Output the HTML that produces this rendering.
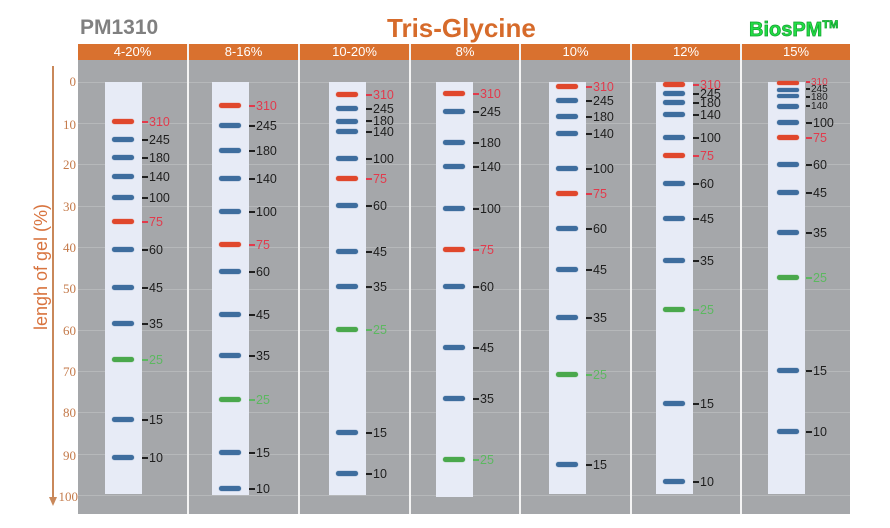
<!DOCTYPE html>
<html><head><meta charset="utf-8">
<style>
*{margin:0;padding:0;box-sizing:border-box}
body{width:890px;height:528px;background:#fff;position:relative;overflow:hidden;font-family:"Liberation Sans",sans-serif}
.a{position:absolute}
.hdr{position:absolute;top:44px;height:16px;line-height:16px;color:#fff;font-size:13px;text-align:center}
.sep{position:absolute;top:44px;width:2px;height:470px;background:#f4f4f4}
.grid{position:absolute;left:78px;width:772px;height:1px;background:#b6b8ba}
.tick{position:absolute;width:40px;text-align:right;font-family:"Liberation Serif",serif;font-size:13px;color:#c47a4a;line-height:14px}
.col{position:absolute;top:0;width:37px;height:528px}
.strip{position:absolute;left:0;top:82px;width:37px;height:413px;background:#e7ebf6}
.b{position:absolute;left:7px;width:22px;height:5px;border-radius:3px;background:#3e6d9e;box-shadow:0 0 1px #3e6d9e}
.b.r{background:#e0472c;box-shadow:0 0 1px #e0472c}
.b.g{background:#4aa84c;box-shadow:0 0 1px #4aa84c}
.l{position:absolute;left:37px;font-size:12.5px;line-height:14px;color:#1e1e1e;white-space:nowrap}
.l::before{content:"";display:inline-block;width:6px;height:2px;background:currentColor;vertical-align:middle;margin-right:1px;margin-top:-1px}
.l.r{color:#e23a4c}
.l.g{color:#5cb860}
.l.s{font-size:10px;line-height:10px}
.l.s::before{width:4px}
</style></head><body>

<div class="a" style="left:80px;top:17px;font-size:21px;line-height:21px;font-weight:bold;color:#808080">PM1310</div>
<div class="a" style="left:387px;top:15px;font-size:26px;line-height:26px;font-weight:bold;color:#d66b2b">Tris-Glycine</div>
<div class="a" style="left:749px;top:20px;font-size:20px;line-height:20px;font-weight:bold;color:#22dd44;-webkit-text-stroke:0.7px #13a030">BiosPM<span style="font-size:11px;vertical-align:top;line-height:11px;position:relative;top:0px">TM</span></div>

<!-- y axis -->
<div class="a" style="left:52px;top:66px;width:1.5px;height:432px;background:#c9885a"></div>
<div class="a" style="left:49px;top:497px;width:0;height:0;border-left:4px solid transparent;border-right:4px solid transparent;border-top:9px solid #c9885a"></div>
<div class="a" style="left:-59px;top:257px;width:200px;height:20px;line-height:20px;text-align:center;font-size:18px;color:#d8743f;transform:rotate(-90deg)">lengh of gel (%)</div>

<div class="tick" style="left:36px;top:75px">0</div>
<div class="tick" style="left:36px;top:118px">10</div>
<div class="tick" style="left:36px;top:158px">20</div>
<div class="tick" style="left:36px;top:200px">30</div>
<div class="tick" style="left:36px;top:241px">40</div>
<div class="tick" style="left:36px;top:282px">50</div>
<div class="tick" style="left:36px;top:324px">60</div>
<div class="tick" style="left:36px;top:365px">70</div>
<div class="tick" style="left:36px;top:406px">80</div>
<div class="tick" style="left:36px;top:449px">90</div>
<div class="tick" style="left:38px;top:490px">100</div>

<!-- panel -->
<div class="a" style="left:78px;top:60px;width:772px;height:454px;background:#a5a7aa"></div>
<div class="a" style="left:78px;top:44px;width:772px;height:16px;background:#d9712f"></div>

<div class="grid" style="top:82px"></div>
<div class="grid" style="top:123px"></div>
<div class="grid" style="top:164px"></div>
<div class="grid" style="top:206px"></div>
<div class="grid" style="top:247px"></div>
<div class="grid" style="top:289px"></div>
<div class="grid" style="top:330px"></div>
<div class="grid" style="top:371px"></div>
<div class="grid" style="top:412px"></div>
<div class="grid" style="top:454px"></div>
<div class="grid" style="top:495px"></div>

<div class="hdr" style="left:78px;width:109px">4-20%</div>
<div class="hdr" style="left:189px;width:109px">8-16%</div>
<div class="hdr" style="left:300px;width:109px">10-20%</div>
<div class="hdr" style="left:411px;width:108px">8%</div>
<div class="hdr" style="left:521px;width:109px">10%</div>
<div class="hdr" style="left:632px;width:108px">12%</div>
<div class="hdr" style="left:742px;width:108px">15%</div>

<div class="sep" style="left:187px"></div>
<div class="sep" style="left:298px"></div>
<div class="sep" style="left:409px"></div>
<div class="sep" style="left:519px"></div>
<div class="sep" style="left:630px"></div>
<div class="sep" style="left:740px"></div>

<!-- C1 -->
<div class="col" style="left:105px"><div class="strip" style="height:412px"></div>
<div class="b r" style="top:119px"></div><div class="l r" style="top:115px">310</div>
<div class="b" style="top:137px"></div><div class="l" style="top:133px">245</div>
<div class="b" style="top:155px"></div><div class="l" style="top:151px">180</div>
<div class="b" style="top:174px"></div><div class="l" style="top:170px">140</div>
<div class="b" style="top:195px"></div><div class="l" style="top:191px">100</div>
<div class="b r" style="top:219px"></div><div class="l r" style="top:215px">75</div>
<div class="b" style="top:247px"></div><div class="l" style="top:243px">60</div>
<div class="b" style="top:285px"></div><div class="l" style="top:281px">45</div>
<div class="b" style="top:321px"></div><div class="l" style="top:317px">35</div>
<div class="b g" style="top:357px"></div><div class="l g" style="top:353px">25</div>
<div class="b" style="top:417px"></div><div class="l" style="top:413px">15</div>
<div class="b" style="top:455px"></div><div class="l" style="top:451px">10</div>
</div>

<!-- C2 -->
<div class="col" style="left:212px"><div class="strip"></div>
<div class="b r" style="top:103px"></div><div class="l r" style="top:99px">310</div>
<div class="b" style="top:123px"></div><div class="l" style="top:119px">245</div>
<div class="b" style="top:148px"></div><div class="l" style="top:144px">180</div>
<div class="b" style="top:176px"></div><div class="l" style="top:172px">140</div>
<div class="b" style="top:209px"></div><div class="l" style="top:205px">100</div>
<div class="b r" style="top:242px"></div><div class="l r" style="top:238px">75</div>
<div class="b" style="top:269px"></div><div class="l" style="top:265px">60</div>
<div class="b" style="top:312px"></div><div class="l" style="top:308px">45</div>
<div class="b" style="top:353px"></div><div class="l" style="top:349px">35</div>
<div class="b g" style="top:397px"></div><div class="l g" style="top:393px">25</div>
<div class="b" style="top:450px"></div><div class="l" style="top:446px">15</div>
<div class="b" style="top:486px"></div><div class="l" style="top:482px">10</div>
</div>

<!-- C3 -->
<div class="col" style="left:329px"><div class="strip"></div>
<div class="b r" style="top:92px"></div><div class="l r" style="top:88px">310</div>
<div class="b" style="top:106px"></div><div class="l" style="top:102px">245</div>
<div class="b" style="top:119px"></div><div class="l" style="top:114px">180</div>
<div class="b" style="top:129px"></div><div class="l" style="top:125px">140</div>
<div class="b" style="top:156px"></div><div class="l" style="top:152px">100</div>
<div class="b r" style="top:176px"></div><div class="l r" style="top:172px">75</div>
<div class="b" style="top:203px"></div><div class="l" style="top:199px">60</div>
<div class="b" style="top:249px"></div><div class="l" style="top:245px">45</div>
<div class="b" style="top:284px"></div><div class="l" style="top:280px">35</div>
<div class="b g" style="top:327px"></div><div class="l g" style="top:323px">25</div>
<div class="b" style="top:430px"></div><div class="l" style="top:426px">15</div>
<div class="b" style="top:471px"></div><div class="l" style="top:467px">10</div>
</div>

<!-- C4 -->
<div class="col" style="left:436px"><div class="strip" style="height:415px"></div>
<div class="b r" style="top:91px"></div><div class="l r" style="top:87px">310</div>
<div class="b" style="top:109px"></div><div class="l" style="top:105px">245</div>
<div class="b" style="top:140px"></div><div class="l" style="top:136px">180</div>
<div class="b" style="top:164px"></div><div class="l" style="top:160px">140</div>
<div class="b" style="top:206px"></div><div class="l" style="top:202px">100</div>
<div class="b r" style="top:247px"></div><div class="l r" style="top:243px">75</div>
<div class="b" style="top:284px"></div><div class="l" style="top:280px">60</div>
<div class="b" style="top:345px"></div><div class="l" style="top:341px">45</div>
<div class="b" style="top:396px"></div><div class="l" style="top:392px">35</div>
<div class="b g" style="top:457px"></div><div class="l g" style="top:453px">25</div>
</div>

<!-- C5 -->
<div class="col" style="left:549px"><div class="strip" style="height:412px"></div>
<div class="b r" style="top:84px"></div><div class="l r" style="top:80px">310</div>
<div class="b" style="top:98px"></div><div class="l" style="top:94px">245</div>
<div class="b" style="top:114px"></div><div class="l" style="top:110px">180</div>
<div class="b" style="top:131px"></div><div class="l" style="top:127px">140</div>
<div class="b" style="top:166px"></div><div class="l" style="top:162px">100</div>
<div class="b r" style="top:191px"></div><div class="l r" style="top:187px">75</div>
<div class="b" style="top:226px"></div><div class="l" style="top:222px">60</div>
<div class="b" style="top:267px"></div><div class="l" style="top:263px">45</div>
<div class="b" style="top:315px"></div><div class="l" style="top:311px">35</div>
<div class="b g" style="top:372px"></div><div class="l g" style="top:368px">25</div>
<div class="b" style="top:462px"></div><div class="l" style="top:458px">15</div>
</div>

<!-- C6 -->
<div class="col" style="left:656px"><div class="strip" style="height:412px"></div>
<div class="b r" style="top:82px"></div><div class="l r" style="top:78px">310</div>
<div class="b" style="top:91px"></div><div class="l" style="top:87px">245</div>
<div class="b" style="top:100px"></div><div class="l" style="top:96px">180</div>
<div class="b" style="top:112px"></div><div class="l" style="top:108px">140</div>
<div class="b" style="top:135px"></div><div class="l" style="top:131px">100</div>
<div class="b r" style="top:153px"></div><div class="l r" style="top:149px">75</div>
<div class="b" style="top:181px"></div><div class="l" style="top:177px">60</div>
<div class="b" style="top:216px"></div><div class="l" style="top:212px">45</div>
<div class="b" style="top:258px"></div><div class="l" style="top:254px">35</div>
<div class="b g" style="top:307px"></div><div class="l g" style="top:303px">25</div>
<div class="b" style="top:401px"></div><div class="l" style="top:397px">15</div>
<div class="b" style="top:479px"></div><div class="l" style="top:475px">10</div>
</div>

<!-- C7 -->
<div class="col" style="left:768px"><div class="strip" style="height:412px"></div>
<div class="b r" style="top:81px;left:9px;height:4px"></div><div class="l r s" style="top:78px;left:38px">310</div>
<div class="b" style="top:88px;left:9px;height:4px"></div><div class="l s" style="top:85px;left:38px">245</div>
<div class="b" style="top:94px;left:9px;height:4px"></div><div class="l s" style="top:93px;left:38px">180</div>
<div class="b" style="top:104px;left:9px"></div><div class="l s" style="top:102px;left:38px">140</div>
<div class="b" style="top:120px;left:9px"></div><div class="l" style="top:116px;left:38px">100</div>
<div class="b r" style="top:135px;left:9px"></div><div class="l r" style="top:131px;left:38px">75</div>
<div class="b" style="top:162px;left:9px"></div><div class="l" style="top:158px;left:38px">60</div>
<div class="b" style="top:190px;left:9px"></div><div class="l" style="top:186px;left:38px">45</div>
<div class="b" style="top:230px;left:9px"></div><div class="l" style="top:226px;left:38px">35</div>
<div class="b g" style="top:275px;left:9px"></div><div class="l g" style="top:271px;left:38px">25</div>
<div class="b" style="top:368px;left:9px"></div><div class="l" style="top:364px;left:38px">15</div>
<div class="b" style="top:429px;left:9px"></div><div class="l" style="top:425px;left:38px">10</div>
</div>

</body></html>
